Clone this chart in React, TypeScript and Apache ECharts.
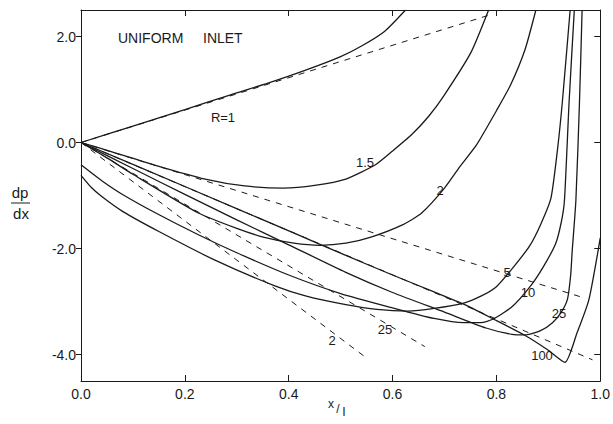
import React, { useEffect, useRef } from "react";
import * as echarts from "echarts";

// x tick values and y tick values
const xTicks = [0, 0.2, 0.4, 0.6, 0.8, 1.0];
const yTicks = [-4, -2, 0, 2];

// Solid curves (x/l, dp/dx)
const curveR1 = [[0, 0], [0.1, 0.31], [0.2, 0.62], [0.288, 0.9], [0.36, 1.12], [0.434, 1.37], [0.5, 1.62], [0.542, 1.83], [0.585, 2.1], [0.625, 2.5]];
const curveR15 = [[0, 0], [0.061, -0.18], [0.15, -0.45], [0.239, -0.69], [0.315, -0.82], [0.39, -0.86], [0.45, -0.81], [0.51, -0.69], [0.567, -0.42], [0.6, -0.16], [0.637, 0.15], [0.67, 0.5], [0.7, 0.9], [0.751, 1.7], [0.785, 2.5]];
const curveR2 = [[0, 0], [0.05, -0.29], [0.1, -0.6], [0.226, -1.33], [0.3, -1.62], [0.353, -1.79], [0.41, -1.9], [0.46, -1.94], [0.51, -1.9], [0.56, -1.78], [0.62, -1.55], [0.656, -1.33], [0.7, -0.86], [0.73, -0.45], [0.762, -0.04], [0.8, 0.6], [0.827, 1.08], [0.855, 1.75], [0.876, 2.5]];
const curveR5 = [[0, -0.62], [0.02, -0.85], [0.04, -1.02], [0.08, -1.3], [0.15, -1.68], [0.258, -2.22], [0.372, -2.7], [0.434, -2.9], [0.51, -3.06], [0.57, -3.15], [0.63, -3.18], [0.68, -3.13], [0.737, -3.03], [0.77, -2.9], [0.8, -2.72], [0.832, -2.36], [0.864, -1.95], [0.885, -1.55], [0.905, -1.05], [0.918, -0.1], [0.927, 0.77], [0.942, 2.5]];
const curveR10 = [[0, -0.42], [0.04, -0.72], [0.08, -0.98], [0.144, -1.33], [0.226, -1.74], [0.3, -2.08], [0.4, -2.5], [0.5, -2.85], [0.6, -3.12], [0.68, -3.32], [0.737, -3.4], [0.77, -3.4], [0.794, -3.33], [0.83, -3.1], [0.864, -2.73], [0.89, -2.35], [0.914, -1.91], [0.925, -1.5], [0.931, -1.1], [0.94, 0.77], [0.95, 2.5]];
const curveR25 = [[0, 0], [0.1, -0.49], [0.2, -0.98], [0.3, -1.46], [0.4, -1.93], [0.51, -2.45], [0.6, -2.83], [0.7, -3.2], [0.78, -3.5], [0.83, -3.62], [0.857, -3.63], [0.885, -3.55], [0.908, -3.4], [0.925, -3.2], [0.937, -2.95], [0.943, -2.5], [0.946, -2.04], [0.953, -1.1], [0.96, 0.77], [0.965, 2.5]];
const curveR100 = [[0, 0], [0.2, -0.83], [0.415, -1.73], [0.51, -2.13], [0.6, -2.5], [0.68, -2.82], [0.737, -3.05], [0.794, -3.33], [0.857, -3.65], [0.9, -3.92], [0.932, -4.15], [0.955, -3.6], [0.978, -2.97], [1.0, -1.8]];

// Dashed straight lines
const dashR1 = [[0, 0], [0.785, 2.4]];
const dashR15 = [[0, 0], [0.965, -2.92]];
const dashR100 = [[0, 0], [0.985, -4.1]];
const dash25 = [[0, 0], [0.662, -3.85]];
const dash2 = [[0, 0], [0.553, -4.09]];

const solidCurves = [curveR1, curveR15, curveR2, curveR5, curveR10, curveR25, curveR100];
const dashedLines = [dashR1, dashR15, dashR100, dash25, dash2];

// Curve labels (text, pixel x, pixel y)
const curveLabels: [string, number, number][] = [
  ["R=1", 223, 117],
  ["1.5", 365, 162],
  ["2", 440, 190],
  ["5", 507, 272],
  ["10", 528, 292],
  ["25", 559, 313],
  ["100", 542, 355],
  ["25", 385, 329],
  ["2", 332, 340],
];

const FONT = "Liberation Sans";
const INK = "#1a1a1a";

export default function App() {
  const ref = useRef<HTMLDivElement>(null);
  useEffect(() => {
    if (!ref.current) return;
    const chart = echarts.init(ref.current, null, { renderer: "svg" });
    const fmt = (v: number) => v.toFixed(1);
    const series: any[] = [];
    solidCurves.forEach((d) =>
      series.push({
        type: "line",
        data: d,
        showSymbol: false,
        smooth: 0.2,
        lineStyle: { color: INK, width: 1.3 },
        clip: true,
        silent: true,
      })
    );
    dashedLines.forEach((d) =>
      series.push({
        type: "line",
        data: d,
        showSymbol: false,
        lineStyle: { color: INK, width: 1, type: [6, 6] },
        clip: true,
        silent: true,
      })
    );
    const graphics: any[] = curveLabels.map(([t, x, y]) => ({
      type: "text",
      x,
      y,
      style: { text: t, fill: INK, font: `13px '${FONT}'`, align: "center", verticalAlign: "middle" },
    }));
    graphics.push(
      { type: "text", x: 118, y: 38, style: { text: "UNIFORM", fill: INK, font: `14px '${FONT}'`, align: "left", verticalAlign: "middle" } },
      { type: "text", x: 203, y: 38, style: { text: "INLET", fill: INK, font: `14px '${FONT}'`, align: "left", verticalAlign: "middle" } },
      { type: "text", x: 20, y: 192, style: { text: "dp", fill: INK, font: `15px '${FONT}'`, align: "center", verticalAlign: "middle" } },
      { type: "line", shape: { x1: 11, y1: 203, x2: 30, y2: 203 }, style: { stroke: INK, lineWidth: 1 } },
      { type: "text", x: 21, y: 213, style: { text: "dx", fill: INK, font: `15px '${FONT}'`, align: "center", verticalAlign: "middle" } },
      { type: "text", x: 331, y: 404, style: { text: "x", fill: INK, font: `12px '${FONT}'`, align: "center", verticalAlign: "middle" } },
      { type: "text", x: 338, y: 409, style: { text: "/", fill: INK, font: `12px '${FONT}'`, align: "center", verticalAlign: "middle" } },
      { type: "text", x: 344, y: 411, style: { text: "l", fill: INK, font: `13px '${FONT}'`, align: "center", verticalAlign: "middle" } }
    );
    chart.setOption({
      animation: false,
      backgroundColor: "#fff",
      grid: { left: 81, right: 3, top: 10, bottom: 43, containLabel: false },
      xAxis: [
        {
          type: "value", min: 0, max: 1, interval: 0.2, position: "bottom",
          axisLine: { show: true, onZero: false, lineStyle: { color: INK, width: 1 } },
          axisTick: { show: true, inside: true, length: 6, lineStyle: { color: INK } },
          axisLabel: { formatter: fmt, fontSize: 14, color: INK, fontFamily: FONT, margin: 6, customValues: xTicks },
          splitLine: { show: false },
        },
        {
          type: "value", min: 0, max: 1, interval: 0.2, position: "top",
          axisLine: { show: true, onZero: false, lineStyle: { color: INK, width: 1 } },
          axisTick: { show: true, inside: true, length: 6, lineStyle: { color: INK } },
          axisLabel: { show: false },
          splitLine: { show: false },
        },
      ],
      yAxis: [
        {
          type: "value", min: -4.5, max: 2.5, position: "left",
          axisLine: { show: true, onZero: false, lineStyle: { color: INK, width: 1 } },
          axisTick: { show: true, inside: false, length: 5, customValues: yTicks, lineStyle: { color: INK } },
          axisLabel: { formatter: fmt, fontSize: 14, color: INK, fontFamily: FONT, margin: 5, customValues: yTicks },
          splitLine: { show: false },
        },
        {
          type: "value", min: -4.5, max: 2.5, position: "right",
          axisLine: { show: true, onZero: false, lineStyle: { color: INK, width: 1 } },
          axisTick: { show: true, inside: true, length: 6, customValues: yTicks, lineStyle: { color: INK } },
          axisLabel: { show: false },
          splitLine: { show: false },
        },
      ],
      series,
      graphic: graphics,
    });
    return () => chart.dispose();
  }, []);
  return <div ref={ref} style={{ width: 613, height: 424, position: "absolute", left: 0, top: 0 }} />;
}
